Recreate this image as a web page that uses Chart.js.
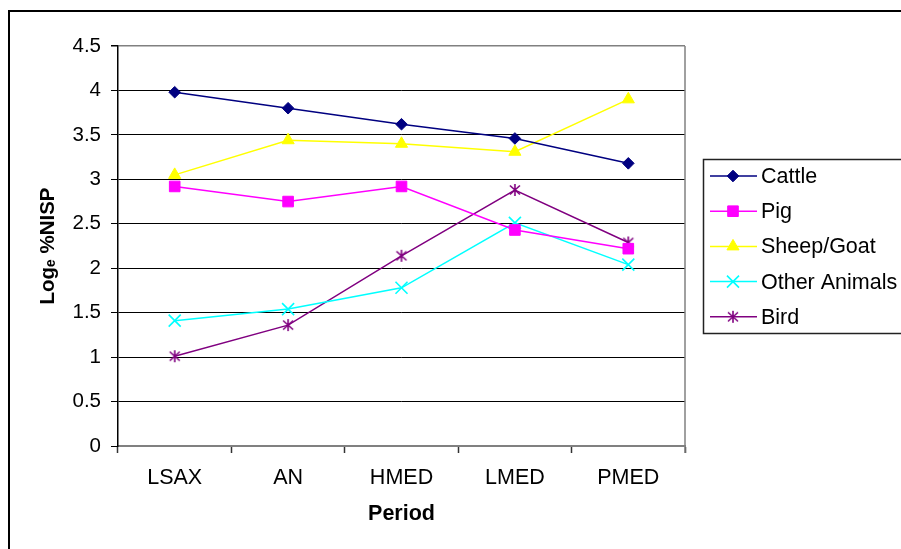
<!DOCTYPE html>
<html>
<head>
<meta charset="utf-8">
<script src="https://cdn.jsdelivr.net/npm/chart.js@4.4.1/dist/chart.umd.min.js"></script>
<style>
  html, body { margin: 0; padding: 0; background: #fff; }
  #wrap { width: 901px; height: 549px; position: relative; }
</style>
</head>
<body>
<div id="wrap"><canvas id="chart"></canvas></div>
<script>
// periods and log-transformed %NISP per taxon
const periods = ['LSAX', 'AN', 'HMED', 'LMED', 'PMED'];
const cattle = [3.98, 3.80, 3.62, 3.46, 3.18];
const pig = [2.92, 2.75, 2.92, 2.43, 2.22];
const sheepGoat = [3.05, 3.44, 3.40, 3.31, 3.90];
const otherAnimals = [1.41, 1.54, 1.78, 2.51, 2.04];
const bird = [1.01, 1.36, 2.14, 2.88, 2.29];
const yTicks = [0, 0.5, 1, 1.5, 2, 2.5, 3, 3.5, 4, 4.5];

const FONT = 'Arial, "Liberation Sans", sans-serif';

// six-armed asterisk marker (vertical bar plus an X)
function asterisk(color) {
    const c = document.createElement('canvas');
    c.width = 14;
    c.height = 14;
    const g = c.getContext('2d');
    g.strokeStyle = color;
    g.lineWidth = 1.6;
    g.beginPath();
    g.moveTo(7, 1); g.lineTo(7, 13);
    g.moveTo(2, 2.5); g.lineTo(12, 11.5);
    g.moveTo(12, 2.5); g.lineTo(2, 11.5);
    g.stroke();
    return c;
}

function series(label, data, color, style, radius, fill) {
    return {
        label: label,
        data: data,
        borderColor: color,
        backgroundColor: color,
        borderWidth: 1.5,
        pointStyle: style,
        pointRadius: radius,
        pointHoverRadius: radius,
        pointBackgroundColor: fill ? color : 'transparent',
        pointBorderColor: color,
        pointBorderWidth: fill ? 1 : 1.6,
        tension: 0
    };
}

const datasets = [
    series('Cattle', cattle, '#000080', 'rectRot', 5.8, true),
    series('Pig', pig, '#FF00FF', 'rect', 7.5, true),
    series('Sheep/Goat', sheepGoat, '#FFFF00', 'triangle', 7, true),
    series('Other Animals', otherAnimals, '#00FFFF', 'crossRot', 8.5, false),
    series('Bird', bird, '#800080', asterisk('#800080'), 7, false)
];

// outer frame, right edge of the plot and the boxed legend
const framePlugin = {
    id: 'frame',
    beforeDraw(chart) {
        const ctx = chart.ctx;
        ctx.save();
        ctx.fillStyle = '#fff';
        ctx.fillRect(0, 0, chart.width, chart.height);
        ctx.restore();
    },
    afterDraw(chart) {
        const ctx = chart.ctx;
        const a = chart.chartArea;
        ctx.save();
        ctx.strokeStyle = '#000';
        ctx.lineWidth = 2;
        ctx.strokeRect(9, 11, chart.width + 10, chart.height + 10);

        ctx.strokeStyle = '#808080';
        ctx.lineWidth = 1.5;
        ctx.beginPath();
        ctx.moveTo(a.right, a.top);
        ctx.lineTo(a.right, a.bottom + 7);
        ctx.stroke();

        // legend
        const lx = 703, ly = 159;
        ctx.strokeStyle = '#222';
        ctx.lineWidth = 1.5;
        ctx.strokeRect(lx + 0.5, ly + 0.5, 240, 174);
        ctx.font = '21.5px ' + FONT;
        ctx.textBaseline = 'middle';
        chart.data.datasets.forEach((ds, i) => {
            const y = 176 + i * 35.2;
            ctx.strokeStyle = ds.borderColor;
            ctx.lineWidth = 1.5;
            ctx.beginPath();
            ctx.moveTo(710, y);
            ctx.lineTo(757, y);
            ctx.stroke();
            ctx.fillStyle = ds.pointBackgroundColor;
            ctx.strokeStyle = ds.pointBorderColor;
            ctx.lineWidth = ds.pointBorderWidth;
            Chart.helpers.drawPoint(ctx, {
                pointStyle: ds.pointStyle,
                radius: ds.pointRadius,
                rotation: 0,
                borderWidth: ds.pointBorderWidth
            }, 733, y);
            ctx.fillStyle = '#000';
            ctx.fillText(ds.label, 761, y + 1);
        });
        ctx.restore();
    }
};

new Chart(document.getElementById('chart'), {
    type: 'line',
    data: { labels: periods, datasets: datasets },
    options: {
        responsive: true,
        maintainAspectRatio: false,
        animation: false,
        events: [],
        layout: { padding: { left: 0, top: 46, right: 216, bottom: 0 } },
        plugins: {
            legend: { display: false },
            tooltip: { enabled: false }
        },
        scales: {
            x: {
                offset: true,
                grid: {
                    offset: true,
                    drawOnChartArea: false,
                    drawTicks: true,
                    tickLength: 7,
                    tickWidth: 1.5,
                    tickColor: '#333'
                },
                border: { color: '#808080', width: 2 },
                ticks: {
                    color: '#000',
                    padding: 12,
                    font: { family: FONT, size: 21.5 },
                    maxRotation: 0
                },
                title: {
                    display: true,
                    text: 'Period',
                    color: '#000',
                    font: { family: FONT, size: 21.5, weight: 'bold' },
                    padding: { top: 0, bottom: 22 }
                },
                afterFit(scale) { scale.height = 103; }
            },
            y: {
                min: 0,
                max: 4.5,
                afterBuildTicks(scale) {
                    scale.ticks = yTicks.map(v => ({ value: v }));
                },
                grid: {
                    color: ctx => (ctx.tick && ctx.tick.value === 4.5) ? '#808080' : '#000',
                    lineWidth: ctx => (ctx.tick && ctx.tick.value === 4.5) ? 1.5 : 1,
                    tickLength: 7,
                    tickColor: '#000'
                },
                border: { color: '#000', width: 1.5 },
                ticks: {
                    color: '#000',
                    padding: 10,
                    font: { family: FONT, size: 20.5 },
                    callback: v => String(v)
                },
                title: {
                    display: true,
                    text: 'Logₑ %NISP',
                    color: '#000',
                    font: { family: FONT, size: 20.5, weight: 'bold' },
                    padding: { top: 36, bottom: 0 }
                },
                afterFit(scale) { scale.width = 118; }
            }
        }
    },
    plugins: [framePlugin]
});
</script>
</body>
</html>
